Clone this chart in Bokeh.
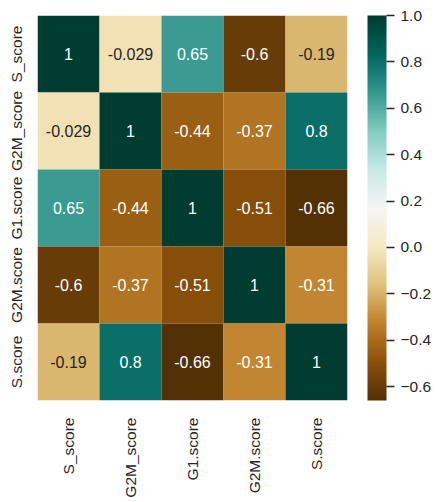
import numpy as np
from bokeh.plotting import figure
from bokeh.models import (ColumnDataSource, LinearColorMapper, ColorBar,
                          FixedTicker, FactorRange)
from bokeh.core.properties import value
from bokeh.transform import transform
from bokeh.embed import file_html
from bokeh.resources import INLINE

# Correlation matrix of the cell-cycle scores
labels = ["S_score", "G2M_score", "G1.score", "G2M.score", "S.score"]
row_S_score = [1, -0.029, 0.65, -0.6, -0.19]
row_G2M_score = [-0.029, 1, -0.44, -0.37, 0.8]
row_G1_score = [0.65, -0.44, 1, -0.51, -0.66]
row_G2M_dot = [-0.6, -0.37, -0.51, 1, -0.31]
row_S_dot = [-0.19, 0.8, -0.66, -0.31, 1]
rows = [row_S_score, row_G2M_score, row_G1_score, row_G2M_dot, row_S_dot]

cbar_ticks = [-0.6, -0.4, -0.2, 0.0, 0.2, 0.4, 0.6, 0.8, 1.0]

vmin, vmax = -0.66, 1.0

# BrBG diverging palette, 256 steps
anchors = ["#543005", "#8c510a", "#bf812d", "#dfc27d", "#f6e8c3", "#f5f5f5",
           "#c7eae5", "#80cdc1", "#35978f", "#01665e", "#003c30"]
anc = np.array([[int(h[i:i + 2], 16) for i in (1, 3, 5)] for h in anchors], float)
pos = np.linspace(0, 1, len(anc))
t = np.linspace(0, 1, 256)
rgb = np.stack([np.interp(t, pos, anc[:, k]) for k in range(3)], axis=1)
palette = ["#%02x%02x%02x" % tuple(int(round(c)) for c in col) for col in rgb]


def cell_rgb(v):
    i = int(np.clip((v - vmin) / (vmax - vmin) * 256, 0, 255))
    return rgb[i] / 255.0


def text_color(v):
    c = cell_rgb(v)
    lin = np.where(c <= 0.03928, c / 12.92, ((c + 0.055) / 1.055) ** 2.4)
    lum = 0.2126 * lin[0] + 0.7152 * lin[1] + 0.0722 * lin[2]
    return "#262626" if lum > 0.408 else "#ffffff"


xs, ys, vals, txt, tcol = [], [], [], [], []
for rlab, row in zip(labels, rows):
    for clab, v in zip(labels, row):
        xs.append(clab)
        ys.append(rlab)
        vals.append(v)
        txt.append(format(v, ".2g"))
        tcol.append(text_color(v))

src = ColumnDataSource(dict(x=xs, y=ys, v=vals, t=txt, tc=tcol))
mapper = LinearColorMapper(palette=palette, low=vmin, high=vmax)

p = figure(x_range=FactorRange(*labels), y_range=FactorRange(*labels[::-1]),
           width=439, height=502,
           min_border_left=37, min_border_top=15, min_border_bottom=102,
           min_border_right=92,
           output_backend="svg", toolbar_location=None,
           background_fill_color="white", border_fill_color="white")
p.outline_line_color = None
p.grid.grid_line_color = None

p.rect(x="x", y="y", width=1, height=1, source=src,
       fill_color=transform("v", mapper), line_color=None)
p.text(x="x", y="y", text="t", source=src, text_color="tc",
       text_align="center", text_baseline="middle",
       text_font=value("Liberation Sans"), text_font_size="16px")

for ax in (p.xaxis[0], p.yaxis[0]):
    ax.axis_line_color = None
    ax.major_tick_line_color = None
    ax.minor_tick_line_color = None
    ax.major_tick_out = 0
    ax.major_tick_in = 0
    ax.major_label_text_font = "Liberation Sans"
    ax.major_label_text_font_size = "15.5px"
    ax.major_label_text_color = "#262626"
p.xaxis.major_label_orientation = np.pi / 2
p.yaxis.major_label_orientation = "parallel"
p.xaxis.major_label_standoff = 17
p.yaxis.major_label_standoff = 13

overrides = {v: ("%.1f" % v).replace("-", "\u2212") for v in cbar_ticks}
cb = ColorBar(color_mapper=mapper, width=19, padding=0, margin=0,
              location=(20, 0),
              ticker=FixedTicker(ticks=cbar_ticks),
              major_label_overrides=overrides,
              major_label_text_font="Liberation Sans",
              major_label_text_font_size="15.5px",
              major_label_text_color="#262626",
              major_tick_out=8, major_tick_in=0,
              major_tick_line_color="#262626", major_tick_line_width=1.5,
              label_standoff=6, bar_line_color=None,
              border_line_color=None, background_fill_color=None)
p.add_layout(cb, "right")

open("out.html", "w").write(file_html(p, INLINE))
